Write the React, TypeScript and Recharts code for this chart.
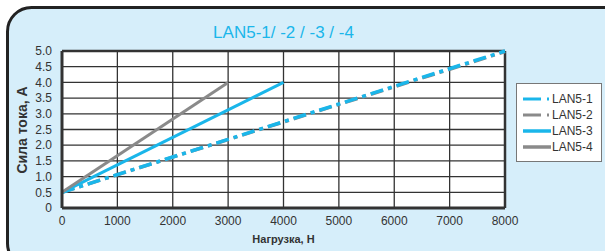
import { LineChart, Line, XAxis, YAxis } from "recharts";

const xTicks = [0, 1000, 2000, 3000, 4000, 5000, 6000, 7000, 8000];
const yTicks = [0, 0.5, 1, 1.5, 2, 2.5, 3, 3.5, 4, 4.5, 5];

const lan51 = [
  { load: 0, amp: 0.5 },
  { load: 8000, amp: 5.0 },
];
const lan52 = [
  { load: 0, amp: 0.5 },
  { load: 8000, amp: 4.98 },
];
const lan53 = [
  { load: 0, amp: 0.5 },
  { load: 4000, amp: 4.0 },
];
const lan54 = [
  { load: 0, amp: 0.5 },
  { load: 3000, amp: 4.0 },
];

const BLUE = "#1ab6ea";
const GRAY = "#8a8a8a";
const GRID = "#333";
const FONT = "'Liberation Sans', Arial, sans-serif";

const W = 605;
const H = 251;
const M = { top: 51, right: 100, bottom: 43, left: 62 };
const PW = W - M.left - M.right;
const PH = H - M.top - M.bottom;

const series = [
  { name: "LAN5-2", data: lan52, color: GRAY, dash: "13 5 4 5", width: 3.5 },
  { name: "LAN5-1", data: lan51, color: BLUE, dash: "13 5 4 5", width: 3.5 },
  { name: "LAN5-3", data: lan53, color: BLUE, dash: undefined, width: 3 },
  { name: "LAN5-4", data: lan54, color: GRAY, dash: undefined, width: 3 },
];
const legendOrder = ["LAN5-1", "LAN5-2", "LAN5-3", "LAN5-4"];

// panel, white plot area and grid, on the same frame as the chart's plot area
function Backdrop() {
  const sx = (v: number) => M.left + (PW * v) / 8000;
  const sy = (v: number) => M.top + PH - (PH * v) / 5;
  return (
    <svg width={W} height={H} style={{ position: "absolute", left: 0, top: 0, display: "block" }}>
      <rect x={7.5} y={7.5} width={620} height={260} rx={24} ry={24} fill="#d6eefa" stroke="#222" strokeWidth={3} />
      <rect x={M.left} y={M.top} width={PW} height={PH} fill="#ffffff" />
      {xTicks.map((t) => (
        <line
          key={"x" + t}
          x1={sx(t)}
          x2={sx(t)}
          y1={M.top}
          y2={M.top + PH}
          stroke={GRID}
          strokeWidth={t === 8000 ? 2.5 : 1.3}
        />
      ))}
      {yTicks.map((t) => (
        <line
          key={"y" + t}
          x1={M.left}
          x2={M.left + PW}
          y1={sy(t)}
          y2={sy(t)}
          stroke={GRID}
          strokeWidth={t === 5 ? 2.5 : 1.3}
        />
      ))}
    </svg>
  );
}

function LegendBox() {
  return (
    <div
      style={{
        position: "absolute",
        left: 516,
        top: 83,
        width: 74,
        background: "#fff",
        border: "1px solid #777",
        padding: "7px 6px 6px 4px",
        fontFamily: FONT,
        fontSize: 12,
        color: "#333",
      }}
    >
      {legendOrder.map((n) => {
        const s = series.find((x) => x.name === n)!;
        return (
          <div key={s.name} style={{ display: "flex", alignItems: "center", height: 16 }}>
            <svg width={30} height={8} style={{ marginRight: 1 }}>
              {s.dash ? (
                <>
                  <line x1={2} y1={4} x2={20} y2={4} stroke={s.color} strokeWidth={3} />
                  <line x1={26} y1={4} x2={28} y2={4} stroke={s.color} strokeWidth={3} />
                </>
              ) : (
                <line x1={2} y1={4} x2={30} y2={4} stroke={s.color} strokeWidth={3.5} />
              )}
            </svg>
            <span>{s.name}</span>
          </div>
        );
      })}
    </div>
  );
}

export default function App() {
  return (
    <div style={{ position: "absolute", left: 0, top: 0, width: W, height: H, overflow: "hidden", background: "#fff" }}>
      <Backdrop />
      <div
        style={{
          position: "absolute",
          left: 0,
          top: 23,
          width: 567,
          textAlign: "center",
          fontFamily: FONT,
          fontSize: 17,
          color: BLUE,
        }}
      >
        LAN5-1/ -2 / -3 / -4
      </div>
      <div
        style={{
          position: "absolute",
          left: 22,
          top: 130,
          transform: "translate(-50%, -50%) rotate(-90deg)",
          fontFamily: FONT,
          fontSize: 14,
          fontWeight: "bold",
          color: "#333",
          whiteSpace: "nowrap",
        }}
      >
        Сила тока, А
      </div>
      <div
        style={{
          position: "absolute",
          left: 0,
          top: 233,
          width: 567,
          textAlign: "center",
          fontFamily: FONT,
          fontSize: 11,
          fontWeight: "bold",
          color: "#333",
        }}
      >
        Нагрузка, Н
      </div>
      <div style={{ position: "absolute", left: 0, top: 0 }}>
        <LineChart width={W} height={H} margin={{ top: M.top, right: M.right, bottom: 0, left: 0 }}>
          <XAxis
            dataKey="load"
            type="number"
            domain={[0, 8000]}
            ticks={xTicks}
            height={M.bottom}
            axisLine={{ stroke: GRID, strokeWidth: 3 }}
            tickLine={false}
            tick={{ fontFamily: FONT, fontSize: 12, fill: "#333" }}
            tickMargin={2}
            allowDuplicatedCategory={false}
          />
          <YAxis
            dataKey="amp"
            type="number"
            domain={[0, 5]}
            ticks={yTicks}
            width={M.left}
            interval={0}
            axisLine={{ stroke: GRID, strokeWidth: 3 }}
            tickLine={false}
            tick={{ fontFamily: FONT, fontSize: 12, fill: "#333" }}
            tickMargin={4}
            tickFormatter={(v: number) => (v === 0 ? "0" : v.toFixed(1))}
          />
          {series.map((s) => (
            <Line
              key={s.name}
              data={s.data}
              dataKey="amp"
              name={s.name}
              stroke={s.color}
              strokeWidth={s.width}
              strokeDasharray={s.dash}
              dot={false}
              activeDot={false}
              isAnimationActive={false}
            />
          ))}
        </LineChart>
      </div>
      <LegendBox />
    </div>
  );
}
